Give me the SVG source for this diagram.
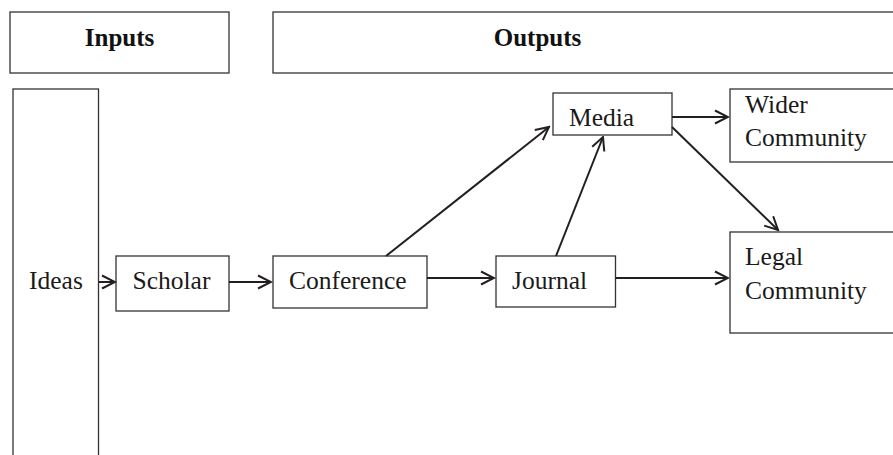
<svg xmlns="http://www.w3.org/2000/svg" width="893" height="455" viewBox="0 0 893 455">
<style>
.box{fill:#fff;stroke:#333;stroke-width:1.3}
.t{font-family:"Liberation Serif","Times New Roman",serif;font-size:25.5px;fill:#1a1a1a}
.h{font-family:"Liberation Serif","Times New Roman",serif;font-size:25px;font-weight:bold;fill:#111}
.c line{stroke:#231f20;stroke-width:2;marker-end:url(#arr)}
</style>
<defs>
<marker id="arr" viewBox="0 0 16 16" refX="14.5" refY="8" markerWidth="16" markerHeight="16" markerUnits="userSpaceOnUse" orient="auto">
<path d="M1.5,1.5 L14.5,8 L1.5,14.5" fill="none" stroke="#231f20" stroke-width="2"/>
</marker>
</defs>
<rect width="893" height="455" fill="#fff"/>
<g id="inputs"><rect class="box" x="10" y="12" width="219" height="61"/><text class="h" x="119.5" y="46" text-anchor="middle">Inputs</text></g>
<g id="outputs"><rect class="box" x="273" y="12" width="630" height="61"/><text class="h" x="537.5" y="46" text-anchor="middle">Outputs</text></g>
<g id="ideas"><rect class="box" x="13" y="89" width="85.5" height="380"/><text class="t" x="29" y="289">Ideas</text></g>
<g id="scholar"><rect class="box" x="116" y="256" width="113" height="55"/><text class="t" x="132.5" y="289">Scholar</text></g>
<g id="conference"><rect class="box" x="273" y="256" width="154" height="52"/><text class="t" x="289" y="289">Conference</text></g>
<g id="journal"><rect class="box" x="496" y="256" width="119.5" height="51"/><text class="t" x="512" y="289">Journal</text></g>
<g id="media"><rect class="box" x="553" y="93" width="119" height="42"/><text class="t" x="569" y="126">Media</text></g>
<g id="wider"><rect class="box" x="730" y="89" width="200" height="73"/><text class="t" x="745" y="113">Wider</text><text class="t" x="745" y="146">Community</text></g>
<g id="legal"><rect class="box" x="730" y="232" width="200" height="101"/><text class="t" x="745" y="265">Legal</text><text class="t" x="745" y="299">Community</text></g>
<g id="connectors" class="c">
<line x1="99" y1="282" x2="115" y2="282"/>
<line x1="229" y1="282" x2="271" y2="282"/>
<line x1="427" y1="278" x2="494" y2="278"/>
<line x1="615.5" y1="278" x2="728" y2="278"/>
<line x1="386" y1="256" x2="549" y2="127"/>
<line x1="556" y1="256" x2="603" y2="137"/>
<line x1="672" y1="117" x2="728" y2="117"/>
<line x1="672" y1="127" x2="778" y2="230"/>
</g>
</svg>
